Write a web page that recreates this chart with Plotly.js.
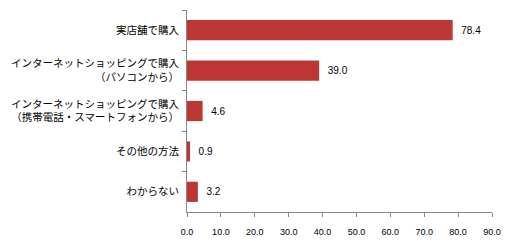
<!DOCTYPE html>
<html>
<head>
<meta charset="utf-8">
<script src="https://cdn.plot.ly/plotly-3.0.1.min.js"></script>
<style>html,body{margin:0;padding:0;background:#fff;}#chart{width:520px;height:241px;}</style>
</head>
<body>
<div id="chart"></div>
<script>
var categories = [
  "実店舗で購入",
  "インターネットショッピングで購入<br>（パソコンから）",
  "インターネットショッピングで購入<br>（携帯電話・スマートフォンから）",
  "その他の方法",
  "わからない"
];
var values = [78.4, 39.0, 4.6, 0.9, 3.2];
var xTickValues = [0, 10, 20, 30, 40, 50, 60, 70, 80, 90];

var trace = {
  type: "bar",
  orientation: "h",
  y: categories,
  x: values,
  marker: {color: "#bd3636", line: {width: 0}},
  texttemplate: "  %{x:.1f}",
  textposition: "outside",
  textfont: {family: "Liberation Sans, Arial, sans-serif", size: 10, color: "#000"},
  cliponaxis: false,
  hoverinfo: "none"
};

var layout = {
  width: 520, height: 241,
  margin: {l: 186.5, r: 28, t: 10, b: 29},
  paper_bgcolor: "#fff", plot_bgcolor: "#fff",
  showlegend: false,
  bargap: 0.5,
  xaxis: {
    range: [0, 90],
    tickvals: xTickValues,
    ticktext: xTickValues.map(function(v){return v.toFixed(1);}),
    ticks: "outside", ticklen: 4, tickcolor: "#888", tickwidth: 1,
    showline: true, linecolor: "#888", linewidth: 1,
    showgrid: false, zeroline: false,
    ticklabelstandoff: 7,
    tickfont: {family: "Liberation Sans, Arial, sans-serif", size: 9, color: "#000"}
  },
  yaxis: {
    autorange: "reversed",
    type: "category",
    ticks: "outside", ticklen: 4, tickcolor: "#888", tickwidth: 1,
    tickson: "boundaries",
    showline: true, linecolor: "#888", linewidth: 1,
    showgrid: false, zeroline: false,
    ticklabelstandoff: 5,
    tickfont: {family: "Noto Sans CJK JP, sans-serif", size: 10.5, color: "#000"}
  }
};

Plotly.newPlot("chart", [trace], layout, {displayModeBar: false, staticPlot: true});
</script>
</body>
</html>
